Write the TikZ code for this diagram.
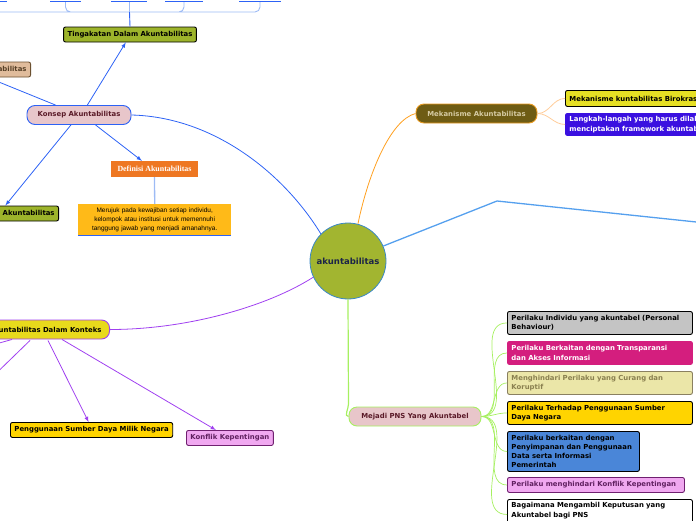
\documentclass[tikz,border=0pt]{standalone}
\usepackage{fontspec}
\setmainfont{DejaVu Sans}
\newfontfamily\defifont{Liberation Serif}
\newfontfamily\descfont{Liberation Sans}
\usetikzlibrary{arrows,calc}

\definecolor{olivenode}{HTML}{9DB42B}
\definecolor{rootfill}{HTML}{A2B530}
\definecolor{rootline}{HTML}{3A88C8}
\definecolor{roottext}{HTML}{1C2448}
\definecolor{tanfill}{HTML}{E0BC9C}
\definecolor{tanline}{HTML}{6B5030}
\definecolor{pinkfill}{HTML}{E8C6CA}
\definecolor{maroontext}{HTML}{5A1A28}
\definecolor{konsepline}{HTML}{2D62F5}
\definecolor{toplight}{HTML}{9DBBF5}
\definecolor{defifill}{HTML}{EE7722}
\definecolor{descfill}{HTML}{FFBA18}
\definecolor{mekfill}{HTML}{6E5C14}
\definecolor{mekline}{HTML}{E89A20}
\definecolor{mektext}{HTML}{D6CBA3}
\definecolor{mekbranch}{HTML}{FFCC99}
\definecolor{orangeline}{HTML}{FFA020}
\definecolor{yellowfill}{HTML}{E6E024}
\definecolor{violetfill}{HTML}{3A10E0}
\definecolor{skyline}{HTML}{55A0EE}
\definecolor{kontfill}{HTML}{E8DA1C}
\definecolor{purpleline}{HTML}{A040F0}
\definecolor{goldfill}{HTML}{FFD400}
\definecolor{orchidfill}{HTML}{F0A8F0}
\definecolor{orchidline}{HTML}{702070}
\definecolor{orchidtext}{HTML}{602060}
\definecolor{limeline}{HTML}{A6F060}
\definecolor{greyfill}{HTML}{C4C4C4}
\definecolor{magentafill}{HTML}{D41E7E}
\definecolor{khakifill}{HTML}{EBE6A8}
\definecolor{khakiline}{HTML}{8A8060}
\definecolor{khakitext}{HTML}{8A8050}
\definecolor{bluefill}{HTML}{4A86D8}

\begin{document}
\begin{tikzpicture}[x=1pt,y=-1pt,>=latex,
    mapfont/.style={font=\bfseries\fontsize{6.9}{9.5}\selectfont},
    box/.style={draw,line width=0.9pt,rounded corners=2pt,inner xsep=4pt,
        inner ysep=2.5pt,mapfont,align=left},
    pill/.style={draw,line width=0.9pt,rounded corners=8pt,minimum height=19pt,
        inner xsep=10pt,mapfont},
    konsepedge/.style={->,konsepline,line width=0.8pt},
    kontedge/.style={->,purpleline,line width=0.8pt},
    limeedge/.style={limeline,line width=0.7pt}]
    \useasboundingbox (0,0) rectangle (696,520);
    \clip (0,0) rectangle (696,520);

    % root
    \node[circle,draw=rootline,line width=0.8pt,fill=rootfill,minimum size=76pt,
        text=roottext,font=\bfseries\fontsize{8.5}{9}\selectfont] (root) at (348,261)
        {akuntabilitas};

    % konsep branch
    \node[pill,draw=konsepline,fill=pinkfill,text=maroontext,minimum width=104pt,
        inner xsep=6pt] (konsep) at (79,115) {Konsep Akuntabilitas};
    \node[box,fill=olivenode,minimum height=15pt,inner xsep=4pt] (tinga) at (130,34.5)
        {Tingakatan Dalam Akuntabilitas};
    \node[box,draw=tanline,fill=tanfill,text=tanline!80!black,minimum height=15pt,
        anchor=east] (aspek) at (31,69.5) {Aspek Akuntabilitas};
    \node[box,fill=olivenode,minimum height=15pt,anchor=east] (penting) at (59,213.5)
        {Pentingnya Akuntabilitas};
    \node[fill=defifill,text=white,minimum width=87pt,minimum height=16pt,inner sep=2pt,
        font=\defifont\bfseries\fontsize{7.9}{8}\selectfont] (defi) at (154.5,169)
        {Definisi Akuntabilitas};
    \node[fill=descfill,anchor=north west,text width=145pt,inner xsep=4pt,
        minimum height=31pt,align=center,font=\descfont\fontsize{6.5}{9}\selectfont]
        (desc) at (78,204)
        {Merujuk pada kewajiban setiap individu,\\kelompok atau institusi untuk memennuhi\\tanggung jawab yang menjadi amanahnya.};
    \draw[konsepline,line width=0.9pt] (desc.south west) -- (desc.south east);

    \draw[konsepedge] (konsep.50) -- (tinga.242);
    \draw[konsepedge] (konsep.157) -- (aspek.south);
    \draw[konsepedge] (konsep.231) -- (penting.north);
    \draw[konsepedge] (konsep.329) -- (defi.147);
    \draw[toplight,line width=1.3pt] (defi.south) -- (desc.north);
    \draw[konsepline,line width=0.8pt] (konsep.east)
        .. controls (215,117) and (285,175) .. (root.135);

    % cut off at the top
    \coordinate (up0) at (-20,2);
    \coordinate (up1) at (65.5,2);
    \coordinate (up2) at (129.5,2);
    \coordinate (up3) at (184,2);
    \coordinate (up4) at (260,2);
    \coordinate (fork) at (129.5,12);
    \foreach \a/\b in {-10/7,50/81,111/147,165/203,239/281}
        \draw[konsepline,line width=1.1pt] (\a,1.5) -- (\b,1.5);
    \draw[toplight,line width=0.9pt,rounded corners=5pt]
        (fork) -| (up0) (fork) -| (up1) (fork) -| (up3) (fork) -| (up4);
    \draw[konsepline,line width=0.9pt] (tinga.north) -- (fork);
    \draw[toplight,line width=0.9pt] (fork) -- (up2);

    % mekanisme branch
    \node[pill,draw=mekline,fill=mekfill,text=mektext,minimum width=121pt]
        (mek) at (476.5,113.5) {Mekanisme Akuntabilitas};
    \node[box,fill=yellowfill,anchor=north west,minimum height=16pt] (mekone) at (565,90)
        {Mekanisme kuntabilitas Birokrasi};
    \node[box,draw=violetfill,fill=violetfill,text=white,anchor=north west,
        minimum height=22pt] (mektwo) at (565,113)
        {Langkah-langah yang harus dilakukan dalam\\menciptakan framework akuntabilitas};
    \draw[orangeline,line width=0.8pt] (root.75)
        .. controls (368,175) and (390,120) .. (mek.west);
    \draw[mekbranch,line width=0.8pt] (mek.east) to[out=0,in=180] (mekone.west);
    \draw[mekbranch,line width=0.8pt] (mek.east) to[out=0,in=180] (mektwo.west);

    % branch going off to the right
    \coordinate (skybend) at (497,201);
    \coordinate (skyend) at (720,224.5);
    \draw[skyline,line width=1.3pt] (root.23) -- (skybend) -- (skyend);

    % konteks branch
    \node[pill,draw=purpleline,fill=kontfill,anchor=east,inner xsep=8pt] (konteks)
        at (110,329.5) {Akuntabilitas Dalam Konteks};
    \node[box,fill=goldfill,anchor=north west,minimum height=15pt] (guna) at (10,422)
        {Penggunaan Sumber Daya Milik Negara};
    \node[box,draw=orchidline,fill=orchidfill,text=orchidtext,anchor=north west,
        minimum height=15pt] (konflik) at (186,430) {Konflik Kepentingan};
    \coordinate (kontone) at (-40,354);
    \coordinate (konttwo) at (-20,389);
    \draw[purpleline,line width=0.8pt] (root.205)
        .. controls (270,305) and (190,329.5) .. (konteks.east);
    \draw[kontedge] ($(konteks.south east)+(-98,0)$) -- (kontone);
    \draw[kontedge] ($(konteks.south east)+(-80,1)$) -- (konttwo);
    \draw[kontedge] ($(konteks.south east)+(-62,1)$) -- ($(guna.north)+(-3,0)$);
    \draw[kontedge] ($(konteks.south east)+(-48,0)$) -- ($(konflik.north)+(-14,0)$);

    % PNS branch
    \node[pill,draw=limeline,fill=pinkfill,text=maroontext,minimum width=132pt]
        (pns) at (415,416.5) {Mejadi PNS Yang Akuntabel};
    \draw[limeline,line width=1.2pt] (root.south) -- (348.5,404)
        to[out=-90,in=180] (pns.west);

    \node[box,fill=greyfill,anchor=north west,text width=177pt,minimum height=23pt]
        (perone) at (507,311) {Perilaku Individu yang akuntabel (Personal\\Behaviour)};
    \node[box,draw=magentafill,fill=magentafill,text=white,anchor=north west,
        text width=177pt,minimum height=23pt] (pertwo) at (507,341)
        {Perilaku Berkaitan dengan Transparansi\\dan Akses Informasi};
    \node[box,draw=khakiline,fill=khakifill,text=khakitext,anchor=north west,
        text width=177pt,minimum height=23pt] (perthree) at (507,371)
        {Menghindari Perilaku yang Curang dan\\Koruptif};
    \node[box,fill=goldfill,anchor=north west,text width=177pt,minimum height=23pt]
        (perfour) at (507,401) {Perilaku Terhadap Penggunaan Sumber\\Daya Negara};
    \node[box,fill=bluefill,anchor=north west,text width=124pt,minimum height=40pt,
        font=\bfseries\fontsize{6.9}{9.3}\selectfont]
        (perfive) at (507,431)
        {Perilaku berkaitan dengan\\Penyimpanan dan Penggunaan\\Data serta Informasi\\Pemerintah};
    \node[box,draw=orchidline,fill=orchidfill,text=orchidtext,anchor=north west,
        text width=169pt,minimum height=15pt] (persix) at (507,477)
        {Perilaku menghindari Konflik Kepentingan};
    \node[box,fill=white,anchor=north west,text width=177pt,minimum height=30pt]
        (perseven) at (507,499)
        {Bagaimana Mengambil Keputusan yang\\Akuntabel bagi PNS\\\vphantom{X}};
    \foreach \p in {perone,pertwo,perthree,perfour,perfive,persix,perseven}
        \draw[limeedge] (pns.east) to[out=0,in=180] (\p.west);
\end{tikzpicture}
\end{document}
